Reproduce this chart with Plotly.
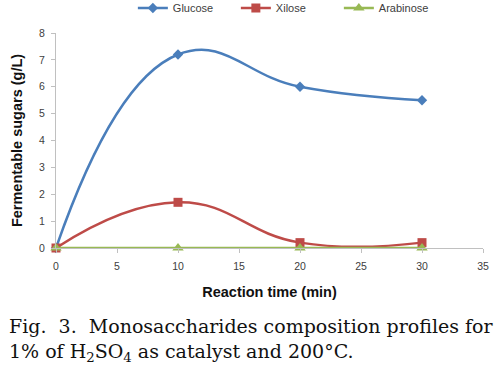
import plotly.graph_objects as go

time_min = [0, 10, 20, 30]
glucose = [0, 7.2, 6.0, 5.5]
xilose = [0, 1.7, 0.2, 0.2]
arabinose = [0, 0, 0, 0]

x_ticks = [0, 5, 10, 15, 20, 25, 30, 35]
y_ticks = [0, 1, 2, 3, 4, 5, 6, 7, 8]

series = [
    ("Glucose", glucose, "#4a7ebb", "diamond", 8),
    ("Xilose", xilose, "#be4b48", "square", 9),
    ("Arabinose", arabinose, "#98b954", "triangle-up", 10),
]

fig = go.Figure()
for name, vals, color, sym, size in series:
    fig.add_trace(go.Scatter(
        x=time_min, y=vals, name=name, mode="lines+markers",
        line=dict(color=color, width=2.5, shape="spline", smoothing=1.3),
        marker=dict(symbol=sym, size=size, color=color),
        cliponaxis=False,
    ))

fig.update_layout(
    width=501, height=371,
    margin=dict(l=56, r=18, t=33, b=123, autoexpand=False),
    plot_bgcolor="white", paper_bgcolor="white",
    showlegend=True,
    legend=dict(orientation="h", x=0.18, xanchor="left", y=1.116, yanchor="middle",
                font=dict(family="Liberation Sans", size=11, color="#404040"),
                itemwidth=30, entrywidth=58, bgcolor="rgba(0,0,0,0)"),
    font=dict(family="Liberation Sans"),
)
fig.update_xaxes(
    range=[0, 35], tickvals=x_ticks, showgrid=False, zeroline=False,
    showline=True, linecolor="#c0c0c0", linewidth=1,
    ticks="outside", ticklen=4, tickcolor="#c0c0c0",
    ticklabelstandoff=4,
    tickfont=dict(size=10.5, color="#404040"),
    title=dict(text="<b>Reaction time (min)</b>", font=dict(size=14.5, color="#111"), standoff=16),
)
fig.update_yaxes(
    range=[0, 8], tickvals=y_ticks, showgrid=False, zeroline=False,
    showline=True, linecolor="#c0c0c0", linewidth=1,
    ticks="outside", ticklen=4, tickcolor="#c0c0c0",
    ticklabelstandoff=4,
    tickfont=dict(size=10.5, color="#404040"),
    title=dict(text="<b>Fermentable sugars (g/L)</b>", font=dict(size=14.5, color="#111"), standoff=12),
)

fig.add_annotation(
    xref="paper", yref="paper", x=-0.115, y=-0.302, xanchor="left", yanchor="top",
    align="left", showarrow=False,
    text="Fig.  3.  Monosaccharides composition profiles for<br>1% of H<sub>2</sub>SO<sub>4</sub> as catalyst and 200°C.",
    font=dict(family="DejaVu Serif", size=19, color="#111"),
)

fig.write_html("out.html", config={"displayModeBar": False},
               post_script="document.body.style.margin='0';")
